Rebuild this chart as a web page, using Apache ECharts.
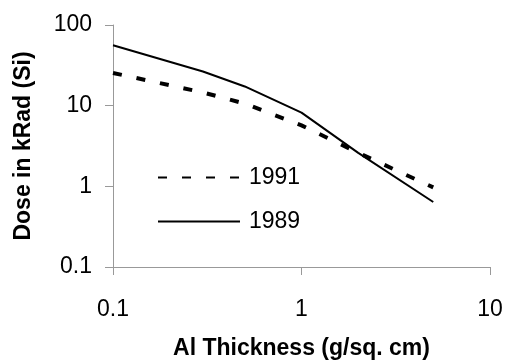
<!DOCTYPE html>
<html><head><meta charset="utf-8">
<script src="https://cdn.jsdelivr.net/npm/echarts@6/dist/echarts.min.js"></script>
<style>html,body{margin:0;padding:0;background:#fff}#c{width:506px;height:360px}</style>
</head><body><div id="c"></div>
<script>
const thickness = [0.1, 0.3, 0.5, 1, 2, 5];
const dose1989 = [56, 26.5, 17.3, 8.2, 2.6, 0.64];
const dose1991 = [25.4, 14.6, 10.6, 5.7, 2.6, 0.97];
const xTicks = ['0.1', '1', '10'];
const yTicks = ['0.1', '1', '10', '100'];
const FONT = '"Liberation Sans", Arial, sans-serif';
const pair = (xs, ys) => xs.map((x, i) => [x, ys[i]]);
const fmt = v => Number(v.toPrecision(3)).toString();
const chart = echarts.init(document.getElementById('c'), null, {renderer: 'canvas'});
chart.setOption({
  animation: false,
  backgroundColor: '#fff',
  grid: {left: 113, right: 16, top: 25, bottom: 93, containLabel: false, outerBoundsMode: 'none'},
  xAxis: {
    type: 'log', logBase: 10, min: 0.1, max: 10,
    name: 'Al Thickness (g/sq. cm)', nameLocation: 'middle', nameGap: 70,
    nameTextStyle: {fontFamily: FONT, fontSize: 23, fontWeight: 'bold', color: '#000', verticalAlign: 'top'},
    axisLine: {show: true, lineStyle: {color: '#999', width: 1}},
    axisTick: {show: true, length: 8, inside: false, lineStyle: {color: '#999'}},
    axisLabel: {fontFamily: FONT, fontSize: 23, color: '#000', margin: 31, formatter: v => fmt(v)},
    splitLine: {show: false}, minorTick: {show: false}
  },
  yAxis: {
    type: 'log', logBase: 10, min: 0.1, max: 100,
    name: 'Dose in kRad (Si)', nameLocation: 'middle', nameGap: 78, nameRotate: 90,
    nameTextStyle: {fontFamily: FONT, fontSize: 23, fontWeight: 'bold', color: '#000'},
    axisLine: {show: true, lineStyle: {color: '#999', width: 1}},
    axisTick: {show: true, length: 8, inside: false, lineStyle: {color: '#999'}},
    axisLabel: {fontFamily: FONT, fontSize: 23, color: '#000', margin: 21, formatter: v => fmt(v)},
    splitLine: {show: false}, minorTick: {show: false}
  },
  legend: {
    data: ['1991', '1989'], orient: 'vertical', left: 152, top: 161,
    itemWidth: 82, itemHeight: 14, itemGap: 21,
    itemStyle: {opacity: 0, borderWidth: 0},
    textStyle: {fontFamily: FONT, fontSize: 23, color: '#000', padding: [0, 0, 0, 4]},
    selectedMode: false
  },
  series: [
    {name: '1991', type: 'line', data: pair(thickness, dose1991), symbol: 'none', showSymbol: false,
     lineStyle: {color: '#000', width: 4, type: [9, 15]}, itemStyle: {color: '#000'}},
    {name: '1989', type: 'line', data: pair(thickness, dose1989), symbol: 'none', showSymbol: false,
     lineStyle: {color: '#000', width: 2, type: 'solid'}, itemStyle: {color: '#000'}}
  ]
});
</script></body></html>
